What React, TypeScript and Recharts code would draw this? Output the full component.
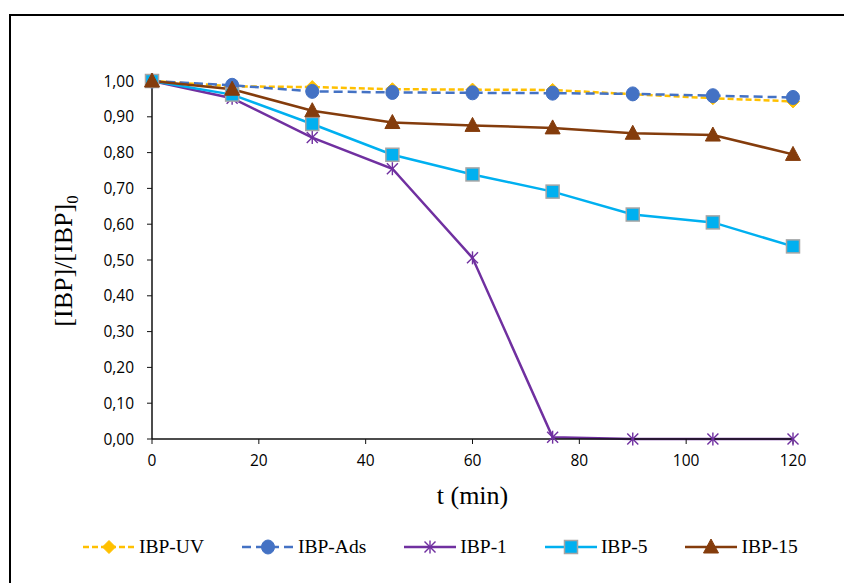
import React from 'react';
import { LineChart, Line, XAxis, YAxis, Legend } from 'recharts';

const times = [0, 15, 30, 45, 60, 75, 90, 105, 120];
const ibpUV = [1.0, 0.985, 0.983, 0.977, 0.976, 0.975, 0.963, 0.952, 0.943];
const ibpAds = [1.0, 0.988, 0.971, 0.968, 0.967, 0.966, 0.964, 0.959, 0.954];
const ibp1 = [1.0, 0.952, 0.842, 0.755, 0.506, 0.005, 0.0, 0.0, 0.0];
const ibp5 = [1.0, 0.962, 0.88, 0.794, 0.739, 0.691, 0.627, 0.605, 0.538];
const ibp15 = [1.0, 0.977, 0.917, 0.884, 0.876, 0.869, 0.854, 0.849, 0.795];

const seriesKeys = ['uv', 'ads', 'p1', 'p5', 'p15'];
const seriesNames = ['IBP-UV', 'IBP-Ads', 'IBP-1', 'IBP-5', 'IBP-15'];

const yTicks = [0, 0.1, 0.2, 0.3, 0.4, 0.5, 0.6, 0.7, 0.8, 0.9, 1.0];
const yMinorTicks = Array.from({ length: 51 }, (_, i) => i / 50);
const xTicks = [0, 20, 40, 60, 80, 100, 120];
const xMinorTicks = Array.from({ length: 31 }, (_, i) => i * 4);

const data = times.map((t, i) => ({
  t,
  uv: ibpUV[i],
  ads: ibpAds[i],
  p1: ibp1[i],
  p5: ibp5[i],
  p15: ibp15[i],
}));

const C_UV = '#FFC000';
const C_ADS = '#4472C4';
const C_1 = '#7030A0';
const C_5 = '#00B0F0';
const C_15 = '#843C0C';
const colors: Record<string, string> = { uv: C_UV, ads: C_ADS, p1: C_1, p5: C_5, p15: C_15 };

const Diamond = (p: any) => {
  const { cx, cy } = p;
  if (cx == null || cy == null) return null;
  const s = 6.5;
  return <polygon points={`${cx},${cy - s} ${cx + s},${cy} ${cx},${cy + s} ${cx - s},${cy}`} fill={C_UV} stroke={C_UV} strokeWidth={1} />;
};
const Circ = (p: any) => {
  const { cx, cy } = p;
  if (cx == null || cy == null) return null;
  return <ellipse cx={cx} cy={cy} rx={6.5} ry={7} fill={C_ADS} stroke={C_ADS} strokeWidth={1} />;
};
const Star = (p: any) => {
  const { cx, cy } = p;
  if (cx == null || cy == null) return null;
  const s = 5.5;
  return (
    <g stroke={C_1} strokeWidth={1.4}>
      <line x1={cx - s} y1={cy - s} x2={cx + s} y2={cy + s} />
      <line x1={cx - s} y1={cy + s} x2={cx + s} y2={cy - s} />
      <line x1={cx} y1={cy - s - 1} x2={cx} y2={cy + s + 1} />
    </g>
  );
};
const Square = (p: any) => {
  const { cx, cy } = p;
  if (cx == null || cy == null) return null;
  const s = 6.5;
  return <rect x={cx - s} y={cy - s} width={2 * s} height={2 * s} fill={C_5} stroke="#A5A5A5" strokeWidth={1.5} />;
};
const Tri = (p: any) => {
  const { cx, cy } = p;
  if (cx == null || cy == null) return null;
  return <polygon points={`${cx},${cy - 8} ${cx + 7.5},${cy + 6} ${cx - 7.5},${cy + 6}`} fill={C_15} stroke={C_15} strokeWidth={1} />;
};

const markers: Record<string, any> = { uv: Diamond, ads: Circ, p1: Star, p5: Square, p15: Tri };
const dashes: Record<string, string | undefined> = { uv: '6 3', ads: '9 5' };

const serif = '"Liberation Serif", "Times New Roman", serif';

const LegendContent = () => (
  <div style={{ display: 'flex', alignItems: 'center', fontFamily: serif, fontSize: 19.5, color: '#000', whiteSpace: 'nowrap', lineHeight: '22px' }}>
    {seriesKeys.map((k, i) => {
      const M = markers[k];
      return (
        <div key={k} style={{ display: 'flex', alignItems: 'center', marginRight: 37, flexShrink: 0 }}>
          <svg width={54} height={20} style={{ marginRight: 3, flexShrink: 0 }}>
            <line x1={1} y1={10} x2={53} y2={10} stroke={colors[k]} strokeWidth={2.5} strokeDasharray={dashes[k]} />
            <M cx={27} cy={10} />
          </svg>
          <span style={{ fontFamily: serif, whiteSpace: 'nowrap' }}>{seriesNames[i]}</span>
        </div>
      );
    })}
  </div>
);

const YLabel = () => (
  <text
    x={72}
    y={261}
    transform="rotate(-90 72 261)"
    textAnchor="middle"
    fontFamily={serif}
    fontSize={26}
    fill="#000"
  >
    [IBP]/[IBP]<tspan fontSize={17} dy={6}>0</tspan>
  </text>
);

const tickStyle = { fill: '#000', fontSize: 15.5, fontFamily: '"Open Sans", sans-serif' };
const axisColor = '#111';

export default function App() {
  return (
    <div style={{ position: 'absolute', left: 0, top: 0, width: 844, height: 583, overflow: 'hidden', background: '#fff' }}>
      <div style={{ position: 'absolute', left: 9, top: 14, width: 900, height: 700, border: '2px solid #000' }} />
      <div style={{ position: 'absolute', left: 0, top: 0 }}>
        <LineChart width={844} height={583} data={data} margin={{ top: 81, right: 51, bottom: 92, left: 92 }}>
          <XAxis
            xAxisId="minor"
            dataKey="t"
            type="number"
            domain={[0, 120]}
            ticks={xMinorTicks}
            height={0}
            mirror
            axisLine={false}
            tickLine={{ stroke: axisColor }}
            tickSize={5}
            tickFormatter={() => ''}
          />
          <XAxis
            xAxisId="main"
            dataKey="t"
            type="number"
            domain={[0, 120]}
            ticks={xTicks}
            height={30}
            axisLine={{ stroke: axisColor, strokeWidth: 1.5 }}
            tickLine={{ stroke: axisColor }}
            tickSize={5}
            tickMargin={11}
            tick={tickStyle}
            label={{ value: 't (min)', position: 'insideBottom', offset: -35, style: { fontFamily: serif, fontSize: 26, fill: '#000' } }}
          />
          <YAxis
            yAxisId="minor"
            type="number"
            domain={[0, 1]}
            ticks={yMinorTicks}
            width={0}
            mirror
            axisLine={false}
            tickLine={{ stroke: axisColor }}
            tickSize={5}
            tickFormatter={() => ''}
          />
          <YAxis
            yAxisId="main"
            type="number"
            domain={[0, 1]}
            ticks={yTicks}
            width={60}
            axisLine={{ stroke: axisColor, strokeWidth: 1.5 }}
            tickLine={{ stroke: axisColor }}
            tickSize={5}
            tickMargin={13}
            tick={tickStyle}
            tickFormatter={(v: number) => v.toFixed(2).replace('.', ',')}
            label={<YLabel />}
          />
          <Line xAxisId="main" yAxisId="main" dataKey="uv" name="IBP-UV" stroke={C_UV} strokeWidth={2.5} strokeDasharray="6 3" dot={<Diamond />} isAnimationActive={false} />
          <Line xAxisId="main" yAxisId="main" dataKey="ads" name="IBP-Ads" stroke={C_ADS} strokeWidth={2.5} strokeDasharray="9 5" dot={<Circ />} isAnimationActive={false} />
          <Line xAxisId="main" yAxisId="main" dataKey="p1" name="IBP-1" stroke={C_1} strokeWidth={2.5} dot={<Star />} isAnimationActive={false} />
          <Line xAxisId="main" yAxisId="main" dataKey="p5" name="IBP-5" stroke={C_5} strokeWidth={2.5} dot={<Square />} isAnimationActive={false} />
          <Line xAxisId="main" yAxisId="main" dataKey="p15" name="IBP-15" stroke={C_15} strokeWidth={2.5} dot={<Tri />} isAnimationActive={false} />
          <Legend content={<LegendContent />} wrapperStyle={{ position: 'absolute', top: 536, left: 82, width: 760, bottom: 'auto' }} />
        </LineChart>
      </div>
    </div>
  );
}
